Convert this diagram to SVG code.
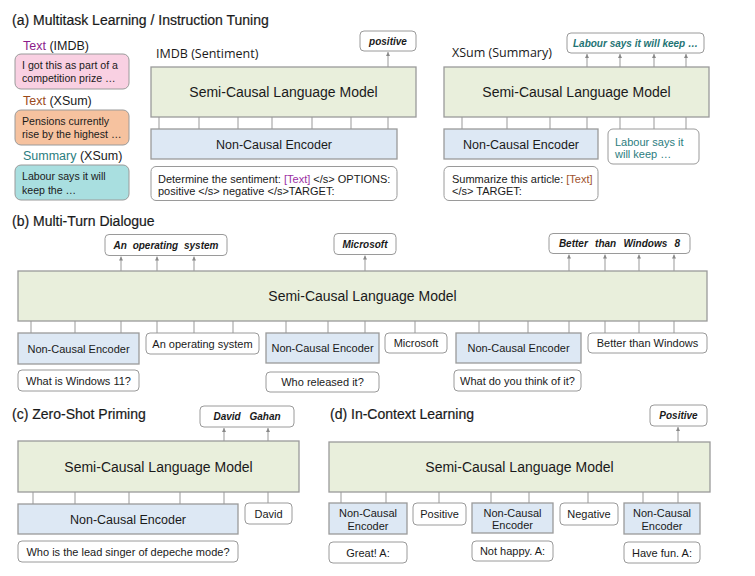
<svg xmlns="http://www.w3.org/2000/svg" width="755" height="576" viewBox="0 0 755 576">
<defs>
<style>
.t{font-family:"Liberation Sans",Arial,sans-serif;fill:#1a1a1a}
.title{font-size:14px;stroke:#1a1a1a;stroke-width:0.2}
.os{font-family:"Open Sans","Liberation Sans",sans-serif;font-size:12.5px;fill:#1a1a1a}
.lm{fill:#e9efdc;stroke:#9a9a9a;stroke-width:1.3}
.enc{fill:#dde8f4;stroke:#9a9a9a;stroke-width:1.3}
.box{fill:#fff;stroke:#9a9a9a;stroke-width:1}
.lmt{font-size:14px;text-anchor:middle}
.enct{font-size:12.5px;text-anchor:middle}
.enc11{font-size:11px;text-anchor:middle}
.s11{font-size:11px}
.c11{font-size:11px;text-anchor:middle}
.bi{font-size:10px;font-weight:bold;font-style:italic;text-anchor:middle}
.side{font-size:12.5px}
.sb{font-size:10.6px}
.con line{stroke:#999;stroke-width:1}
.up{marker-end:url(#ah)}
</style>
<marker id="ah" viewBox="0 0 8 8" refX="8" refY="4" markerWidth="4" markerHeight="4" markerUnits="userSpaceOnUse" orient="auto">
<path d="M0,0 L8,4 L0,8 z" fill="#888"/>
</marker>
</defs>
<rect width="755" height="576" fill="#fff"/>

<!-- titles -->
<text class="t title" x="12" y="25">(a) Multitask Learning / Instruction Tuning</text>
<text class="t title" x="12" y="226">(b) Multi-Turn Dialogue</text>
<text class="t title" x="12" y="419">(c) Zero-Shot Priming</text>
<text class="t title" x="330" y="419">(d) In-Context Learning</text>

<!-- (a) left data samples -->
<g id="imdb-text">
<text class="t side" x="23" y="50"><tspan fill="#8b1c8b">Text</tspan> (IMDB)</text>
<rect x="15" y="54" width="114" height="35" rx="6" fill="#f9d0e2" stroke="#9a9a9a"/>
<text class="t sb" x="22" y="68.5">I got this as part of a</text>
<text class="t sb" x="22" y="82">competition prize …</text>
</g>
<g id="xsum-text">
<text class="t side" x="23" y="105"><tspan fill="#9a4a1a">Text</tspan> (XSum)</text>
<rect x="15" y="110" width="114" height="35" rx="6" fill="#f6c29f" stroke="#9a9a9a"/>
<text class="t sb" x="22" y="124.5">Pensions currently</text>
<text class="t sb" x="22" y="138">rise by the highest …</text>
</g>
<g id="xsum-summary">
<text class="t side" x="23" y="160"><tspan fill="#2b7d80">Summary</tspan> (XSum)</text>
<rect x="15" y="165" width="114" height="35" rx="6" fill="#a9dfe0" stroke="#9a9a9a"/>
<text class="t sb" x="22" y="180">Labour says it will</text>
<text class="t sb" x="22" y="193.5">keep the …</text>
</g>

<!-- (a) IMDB -->
<text class="os" x="156" y="58">IMDB (Sentiment)</text>
<g id="a1-lm"><rect class="lm" x="151" y="67" width="265" height="50"/><text class="t lmt" x="283.5" y="97">Semi-Causal Language Model</text></g>
<g id="a1-enc"><rect class="enc" x="151" y="129" width="246" height="30"/><text class="t enct" x="274" y="148.5">Non-Causal Encoder</text></g>
<g id="a1-prompt"><rect class="box" x="151" y="166.5" width="246" height="34" rx="5"/>
<text class="t s11" x="158" y="183">Determine the sentiment: <tspan fill="#9b2fa3">[Text]</tspan> &lt;/s&gt; OPTIONS:</text>
<text class="t s11" x="158" y="195">positive &lt;/s&gt; negative &lt;/s&gt;TARGET:</text></g>
<g id="a1-out"><rect class="box" x="360" y="31" width="56" height="20" rx="4"/><text class="t bi" x="388" y="44.5">positive</text></g>

<!-- (a) XSum -->
<text class="os" x="452" y="57">XSum (Summary)</text>
<g id="a2-lm"><rect class="lm" x="444" y="67" width="265" height="50"/><text class="t lmt" x="576.5" y="97">Semi-Causal Language Model</text></g>
<g id="a2-enc"><rect class="enc" x="444" y="129" width="154" height="30"/><text class="t enct" x="521" y="148.5">Non-Causal Encoder</text></g>
<g id="a2-prompt"><rect class="box" x="444" y="166.5" width="154" height="34" rx="5"/>
<text class="t s11" x="452" y="183">Summarize this article: <tspan fill="#a0522d">[Text]</tspan></text>
<text class="t s11" x="452" y="195">&lt;/s&gt; TARGET:</text></g>
<g id="a2-in"><rect class="box" x="608" y="129" width="91" height="35" rx="5"/>
<text class="t s11" x="615" y="145.5" style="fill:#2b7d80">Labour says it</text>
<text class="t s11" x="615" y="157.5" style="fill:#2b7d80">will keep …</text></g>
<g id="a2-out"><rect class="box" x="567" y="33" width="137" height="20" rx="4"/><text class="t bi" x="635.5" y="47" style="fill:#1e7474">Labour says it will keep …</text></g>

<!-- (b) -->
<g id="b-lm"><rect class="lm" x="18" y="271" width="689" height="50"/><text class="t lmt" x="362.5" y="301">Semi-Causal Language Model</text></g>
<g id="b-enc1"><rect class="enc" x="18" y="333" width="121" height="31"/><text class="t enc11" x="78.5" y="352.5">Non-Causal Encoder</text></g>
<g id="b-in1"><rect class="box" x="146" y="333" width="113" height="21" rx="4"/><text class="t c11" x="202.5" y="347.5">An operating system</text></g>
<g id="b-enc2"><rect class="enc" x="266" y="333" width="113" height="30"/><text class="t enc11" x="322.5" y="352">Non-Causal Encoder</text></g>
<g id="b-in2"><rect class="box" x="385" y="333" width="62" height="20" rx="4"/><text class="t c11" x="416" y="347">Microsoft</text></g>
<g id="b-enc3"><rect class="enc" x="456" y="333" width="125" height="30"/><text class="t enc11" x="518.5" y="352">Non-Causal Encoder</text></g>
<g id="b-in3"><rect class="box" x="588" y="333" width="119" height="20" rx="4"/><text class="t c11" x="647.5" y="347">Better than Windows</text></g>
<g id="b-q1"><rect class="box" x="18" y="370" width="121" height="21" rx="4"/><text class="t c11" x="78.5" y="384.5">What is Windows 11?</text></g>
<g id="b-q2"><rect class="box" x="266" y="372" width="113" height="20" rx="4"/><text class="t c11" x="322.5" y="386">Who released it?</text></g>
<g id="b-q3"><rect class="box" x="454" y="370" width="127" height="21" rx="4"/><text class="t c11" x="517.5" y="384.5">What do you think of it?</text></g>
<g id="b-out1"><rect class="box" x="105" y="234.5" width="122" height="21" rx="4"/><text class="t bi" x="166" y="248.5" word-spacing="3">An operating system</text></g>
<g id="b-out2"><rect class="box" x="334" y="233.5" width="62" height="21" rx="4"/><text class="t bi" x="365" y="247.5">Microsoft</text></g>
<g id="b-out3"><rect class="box" x="549" y="233.5" width="141" height="20" rx="4"/><text class="t bi" x="619.5" y="247" word-spacing="4.5">Better than Windows 8</text></g>

<!-- (c) -->
<g id="c-lm"><rect class="lm" x="18" y="441" width="281" height="51"/><text class="t lmt" x="158.5" y="471.5">Semi-Causal Language Model</text></g>
<g id="c-enc"><rect class="enc" x="18" y="504" width="220" height="30"/><text class="t enct" x="128" y="523.5">Non-Causal Encoder</text></g>
<g id="c-in"><rect class="box" x="245" y="503" width="47" height="21" rx="4"/><text class="t c11" x="268.5" y="517.5">David</text></g>
<g id="c-q"><rect class="box" x="18" y="541" width="220" height="21" rx="4"/><text class="t c11" x="128" y="555.5">Who is the lead singer of depeche mode?</text></g>
<g id="c-out"><rect class="box" x="200" y="406" width="94" height="21" rx="4"/><text class="t bi" x="247" y="420" word-spacing="6">David Gahan</text></g>

<!-- (d) -->
<g id="d-lm"><rect class="lm" x="329" y="442" width="381" height="50"/><text class="t lmt" x="519.5" y="472">Semi-Causal Language Model</text></g>
<g id="d-enc1"><rect class="enc" x="329" y="503" width="78" height="31"/><text class="t enc11" x="368" y="517">Non-Causal</text><text class="t enc11" x="368" y="529.5">Encoder</text></g>
<g id="d-in1"><rect class="box" x="413" y="503" width="53" height="22" rx="4"/><text class="t c11" x="439.5" y="518">Positive</text></g>
<g id="d-enc2"><rect class="enc" x="472" y="503" width="81" height="30"/><text class="t enc11" x="512.5" y="516.5">Non-Causal</text><text class="t enc11" x="512.5" y="528.5">Encoder</text></g>
<g id="d-in2"><rect class="box" x="560" y="503" width="58" height="22" rx="4"/><text class="t c11" x="589" y="518">Negative</text></g>
<g id="d-enc3"><rect class="enc" x="624" y="503" width="76" height="31"/><text class="t enc11" x="662" y="517">Non-Causal</text><text class="t enc11" x="662" y="529.5">Encoder</text></g>
<g id="d-q1"><rect class="box" x="329" y="542" width="78" height="21" rx="4"/><text class="t c11" x="368" y="556.5">Great! A:</text></g>
<g id="d-q2"><rect class="box" x="472" y="541" width="81" height="20" rx="4"/><text class="t c11" x="512.5" y="555">Not happy. A:</text></g>
<g id="d-q3"><rect class="box" x="624" y="542" width="76" height="21" rx="4"/><text class="t c11" x="662" y="556.5">Have fun. A:</text></g>
<g id="d-out"><rect class="box" x="650" y="405" width="57" height="21" rx="4"/><text class="t bi" x="678.5" y="419">Positive</text></g>

<!-- connectors -->
<g id="connectors" class="con">
<line x1="159" y1="117" x2="159" y2="129"/><line x1="199" y1="117" x2="199" y2="129"/><line x1="238" y1="117" x2="238" y2="129"/><line x1="272" y1="117" x2="272" y2="129"/><line x1="312" y1="117" x2="312" y2="129"/><line x1="351" y1="117" x2="351" y2="129"/><line x1="388" y1="117" x2="388" y2="129"/>
<line class="up" x1="388" y1="67" x2="388" y2="52"/>
<line x1="462" y1="117" x2="462" y2="129"/><line x1="507" y1="117" x2="507" y2="129"/><line x1="550" y1="117" x2="550" y2="129"/><line x1="587" y1="117" x2="587" y2="129"/><line x1="620" y1="117" x2="620" y2="129"/><line x1="654" y1="117" x2="654" y2="129"/><line x1="686" y1="117" x2="686" y2="129"/>
<line class="up" x1="587" y1="67" x2="587" y2="54"/><line class="up" x1="620" y1="67" x2="620" y2="54"/><line class="up" x1="654" y1="67" x2="654" y2="54"/><line class="up" x1="686" y1="67" x2="686" y2="54"/>

<line x1="31" y1="321" x2="31" y2="333"/><line x1="75" y1="321" x2="75" y2="333"/><line x1="121" y1="321" x2="121" y2="333"/>
<line x1="157" y1="321" x2="157" y2="333"/><line x1="194" y1="321" x2="194" y2="333"/><line x1="233" y1="321" x2="233" y2="333"/>
<line x1="286" y1="321" x2="286" y2="333"/><line x1="328" y1="321" x2="328" y2="333"/><line x1="365" y1="321" x2="365" y2="333"/>
<line x1="415" y1="321" x2="415" y2="333"/>
<line x1="479" y1="321" x2="479" y2="333"/><line x1="528" y1="321" x2="528" y2="333"/><line x1="569" y1="321" x2="569" y2="333"/>
<line x1="605" y1="321" x2="605" y2="333"/><line x1="639" y1="321" x2="639" y2="333"/><line x1="674" y1="321" x2="674" y2="333"/>
<line class="up" x1="121" y1="271" x2="121" y2="256.5"/><line class="up" x1="157" y1="271" x2="157" y2="256.5"/><line class="up" x1="194" y1="271" x2="194" y2="256.5"/>
<line class="up" x1="365" y1="271" x2="365" y2="255.5"/>
<line class="up" x1="569" y1="271" x2="569" y2="254.5"/><line class="up" x1="605" y1="271" x2="605" y2="254.5"/><line class="up" x1="639" y1="271" x2="639" y2="254.5"/><line class="up" x1="674" y1="271" x2="674" y2="254.5"/>

<line x1="33" y1="492" x2="33" y2="504"/><line x1="75" y1="492" x2="75" y2="504"/><line x1="129" y1="492" x2="129" y2="504"/><line x1="180" y1="492" x2="180" y2="504"/><line x1="224" y1="492" x2="224" y2="504"/>
<line x1="268" y1="492" x2="268" y2="503"/>
<line class="up" x1="224" y1="441" x2="224" y2="428"/><line class="up" x1="268" y1="441" x2="268" y2="428"/>

<line x1="341" y1="492" x2="341" y2="503"/><line x1="386" y1="492" x2="386" y2="503"/><line x1="439" y1="492" x2="439" y2="503"/><line x1="491" y1="492" x2="491" y2="503"/><line x1="529" y1="492" x2="529" y2="503"/><line x1="588" y1="492" x2="588" y2="503"/><line x1="643" y1="492" x2="643" y2="503"/><line x1="678" y1="492" x2="678" y2="503"/>
<line class="up" x1="678" y1="442" x2="678" y2="427"/>
</g>
</svg>
